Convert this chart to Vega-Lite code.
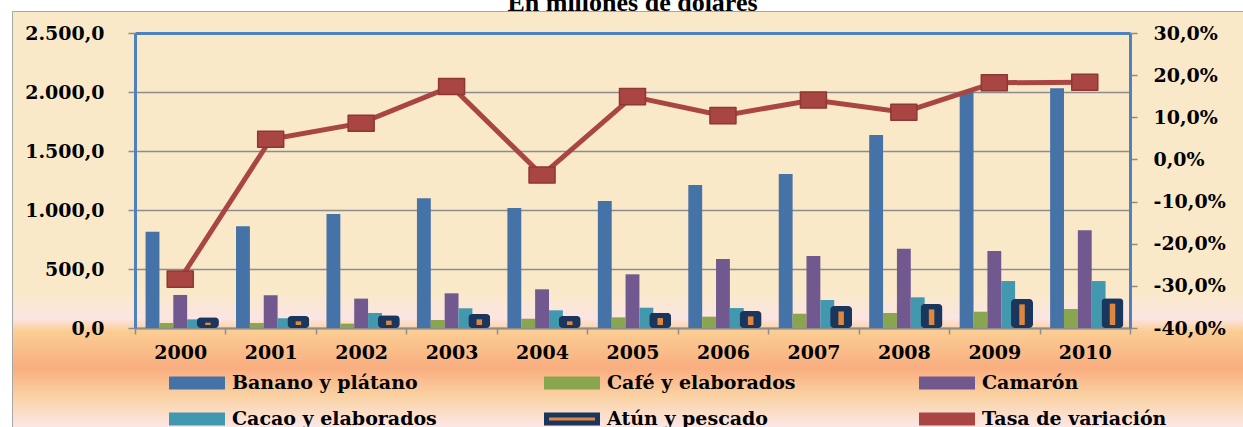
{
  "$schema": "https://vega.github.io/schema/vega-lite/v6.json",
  "autosize": {"type": "none"},
  "padding": {"left": 12, "top": 11, "right": 0, "bottom": 0},
  "background": "white",
  "width": 1241,
  "height": 430,
  "config": {
    "locale": {"number": {"decimal": ",", "thousands": ".", "grouping": [3], "currency": ["", ""], "minus": "-"}},
    "font": "DejaVu Serif",
    "axis": {"labelFont": "DejaVu Serif", "labelFontSize": 19, "labelFontWeight": "bold", "labelColor": "black", "tickColor": "#8C8C8C", "tickWidth": 1.5}
  },
  "title": {"text": "En millones de dólares", "font": "Liberation Serif", "fontSize": 26, "fontWeight": "bold", "color": "black", "frame": "group", "offset": -5, "anchor": "middle"},
  "view": {
    "fill": {
      "gradient": "linear", "x1": 0, "y1": 0, "x2": 0, "y2": 1,
      "stops": [
        {"offset": 0, "color": "#FAE9C8"},
        {"offset": 0.649, "color": "#FAE9C8"},
        {"offset": 0.714, "color": "#FBE5E3"},
        {"offset": 0.744, "color": "#FBCD93"},
        {"offset": 0.83, "color": "#F9AE80"},
        {"offset": 0.895, "color": "#FAD2A3"},
        {"offset": 0.963, "color": "#FCE6E3"},
        {"offset": 1, "color": "#FCE6E3"}
      ]
    },
    "stroke": "#A6A6A6",
    "strokeWidth": 1
  },
  "datasets": {
    "bars": [
      {"year": "2000", "series": "Banano y plátano", "value": 816},
      {"year": "2001", "series": "Banano y plátano", "value": 862},
      {"year": "2002", "series": "Banano y plátano", "value": 966},
      {"year": "2003", "series": "Banano y plátano", "value": 1099},
      {"year": "2004", "series": "Banano y plátano", "value": 1017},
      {"year": "2005", "series": "Banano y plátano", "value": 1076},
      {"year": "2006", "series": "Banano y plátano", "value": 1212},
      {"year": "2007", "series": "Banano y plátano", "value": 1305},
      {"year": "2008", "series": "Banano y plátano", "value": 1636},
      {"year": "2009", "series": "Banano y plátano", "value": 1995},
      {"year": "2010", "series": "Banano y plátano", "value": 2031},
      {"year": "2000", "series": "Café y elaborados", "value": 42},
      {"year": "2001", "series": "Café y elaborados", "value": 42},
      {"year": "2002", "series": "Café y elaborados", "value": 37},
      {"year": "2003", "series": "Café y elaborados", "value": 68},
      {"year": "2004", "series": "Café y elaborados", "value": 79},
      {"year": "2005", "series": "Café y elaborados", "value": 90},
      {"year": "2006", "series": "Café y elaborados", "value": 96},
      {"year": "2007", "series": "Café y elaborados", "value": 121},
      {"year": "2008", "series": "Café y elaborados", "value": 127},
      {"year": "2009", "series": "Café y elaborados", "value": 138},
      {"year": "2010", "series": "Café y elaborados", "value": 161},
      {"year": "2000", "series": "Camarón", "value": 280},
      {"year": "2001", "series": "Camarón", "value": 277},
      {"year": "2002", "series": "Camarón", "value": 249},
      {"year": "2003", "series": "Camarón", "value": 294},
      {"year": "2004", "series": "Camarón", "value": 328},
      {"year": "2005", "series": "Camarón", "value": 455},
      {"year": "2006", "series": "Camarón", "value": 585},
      {"year": "2007", "series": "Camarón", "value": 610},
      {"year": "2008", "series": "Camarón", "value": 672},
      {"year": "2009", "series": "Camarón", "value": 653},
      {"year": "2010", "series": "Camarón", "value": 828},
      {"year": "2000", "series": "Cacao y elaborados", "value": 73},
      {"year": "2001", "series": "Cacao y elaborados", "value": 82},
      {"year": "2002", "series": "Cacao y elaborados", "value": 127},
      {"year": "2003", "series": "Cacao y elaborados", "value": 167},
      {"year": "2004", "series": "Cacao y elaborados", "value": 150},
      {"year": "2005", "series": "Cacao y elaborados", "value": 172},
      {"year": "2006", "series": "Cacao y elaborados", "value": 169},
      {"year": "2007", "series": "Cacao y elaborados", "value": 237},
      {"year": "2008", "series": "Cacao y elaborados", "value": 260},
      {"year": "2009", "series": "Cacao y elaborados", "value": 398},
      {"year": "2010", "series": "Cacao y elaborados", "value": 398}
    ],
    "atun": [
      {"year": "2000", "series": "Atún y pescado", "value": 91},
      {"year": "2001", "series": "Atún y pescado", "value": 102},
      {"year": "2002", "series": "Atún y pescado", "value": 108},
      {"year": "2003", "series": "Atún y pescado", "value": 119},
      {"year": "2004", "series": "Atún y pescado", "value": 102},
      {"year": "2005", "series": "Atún y pescado", "value": 130},
      {"year": "2006", "series": "Atún y pescado", "value": 144},
      {"year": "2007", "series": "Atún y pescado", "value": 186},
      {"year": "2008", "series": "Atún y pescado", "value": 203},
      {"year": "2009", "series": "Atún y pescado", "value": 246},
      {"year": "2010", "series": "Atún y pescado", "value": 252}
    ],
    "tasa": [
      {"year": "2000", "series": "Tasa de variación", "rate": -0.284},
      {"year": "2001", "series": "Tasa de variación", "rate": 0.048},
      {"year": "2002", "series": "Tasa de variación", "rate": 0.086},
      {"year": "2003", "series": "Tasa de variación", "rate": 0.173},
      {"year": "2004", "series": "Tasa de variación", "rate": -0.037},
      {"year": "2005", "series": "Tasa de variación", "rate": 0.149},
      {"year": "2006", "series": "Tasa de variación", "rate": 0.104},
      {"year": "2007", "series": "Tasa de variación", "rate": 0.141},
      {"year": "2008", "series": "Tasa de variación", "rate": 0.112},
      {"year": "2009", "series": "Tasa de variación", "rate": 0.182},
      {"year": "2010", "series": "Tasa de variación", "rate": 0.183}
    ]
  },
  "encoding": {
    "x": {
      "field": "year", "type": "ordinal",
      "scale": {"range": [123, 1118], "paddingInner": 0, "paddingOuter": 0},
      "axis": {"title": null, "labelAngle": 0, "labelPadding": 9, "offset": -113, "tickBand": "extent", "tickSize": 6, "domainColor": "#8C8C8C", "domainWidth": 2, "grid": false}
    }
  },
  "layer": [
    {
      "layer": [
        {
          "data": {"name": "bars"},
          "mark": {"type": "bar"},
          "encoding": {
            "xOffset": {"field": "series", "type": "nominal", "scale": {"domain": ["Banano y plátano", "Café y elaborados", "Camarón", "Cacao y elaborados", "Atún y pescado"], "paddingInner": 0, "paddingOuter": 0.763}},
            "y": {
              "field": "value", "type": "quantitative",
              "scale": {"domain": [0, 2500], "nice": false, "range": [317, 22]},
              "axis": {
                "title": null, "orient": "left", "offset": -123, "values": [0, 500, 1000, 1500, 2000, 2500], "format": ",.1f", "labelPadding": 24, "tickSize": 7,
                "domain": true, "domainColor": "#4F81BD", "domainWidth": 3,
                "grid": true,
                "gridColor": {"condition": {"test": "datum.value >= 2500", "value": "#4F81BD"}, "value": "#8C8C8C"},
                "gridWidth": {"condition": {"test": "datum.value >= 2500", "value": 3}, "value": 1.5}
              }
            },
            "fill": {
              "field": "series", "type": "nominal", "title": null,
              "scale": {"domain": ["Banano y plátano", "Café y elaborados", "Camarón", "Cacao y elaborados", "Atún y pescado", "Tasa de variación"], "range": ["#4572A7", "#89A54E", "#71588F", "#4198AF", "#E0873E", "#A94643"]},
              "legend": {"orient": "none", "legendX": 174, "legendY": 361, "direction": "horizontal", "columns": 3, "gridAlign": "all", "columnPadding": 99, "rowPadding": 8, "symbolType": "M-3,-0.47H3V0.47H-3Z", "symbolSize": 289, "symbolStrokeWidth": 5, "labelFont": "DejaVu Serif", "labelFontSize": 19, "labelFontWeight": "bold", "labelColor": "black", "labelOffset": 24, "labelLimit": 400, "zindex": 1, "padding": 0}
            },
            "stroke": {
              "field": "series", "type": "nominal", "title": null,
              "scale": {"domain": ["Banano y plátano", "Café y elaborados", "Camarón", "Cacao y elaborados", "Atún y pescado", "Tasa de variación"], "range": ["#4572A7", "#89A54E", "#71588F", "#4198AF", "#1B365D", "#A94643"]}
            },
            "strokeWidth": {"value": 0}
          }
        },
        {
          "data": {"name": "atun"},
          "mark": {"type": "bar", "width": 22, "fill": "#1B365D", "cornerRadius": 4},
          "encoding": {
            "xOffset": {"field": "series", "type": "nominal"},
            "y": {"field": "value", "type": "quantitative"}
          }
        },
        {
          "data": {"name": "atun"},
          "mark": {"type": "bar", "width": 5.5, "fill": "#E0873E", "yOffset": 5.4, "y2Offset": -3},
          "encoding": {
            "xOffset": {"field": "series", "type": "nominal"},
            "y": {"field": "value", "type": "quantitative"},
            "y2": {"datum": 0}
          }
        }
      ]
    },
    {
      "data": {"name": "tasa"},
      "encoding": {
        "y": {
          "field": "rate", "type": "quantitative",
          "scale": {"domain": [-0.4, 0.3], "nice": false, "zero": false, "range": [317, 22]},
          "axis": {"title": null, "orient": "right", "offset": -123, "values": [-0.4, -0.3, -0.2, -0.1, 0, 0.1, 0.2, 0.3], "format": ".1%", "labelPadding": 16, "tickSize": 7, "domain": true, "domainColor": "#4F81BD", "domainWidth": 3, "grid": false}
        }
      },
      "layer": [
        {
          "mark": {"type": "line", "strokeWidth": 5},
          "encoding": {
            "stroke": {"field": "series", "type": "nominal", "title": null}
          }
        },
        {
          "mark": {"type": "point", "filled": true, "shape": "M-1,-0.62H1V0.62H-1Z", "size": 676, "opacity": 1, "stroke": "#8E3734", "strokeWidth": 1.5, "strokeJoin": "round"},
          "encoding": {
            "fill": {"field": "series", "type": "nominal", "title": null}
          }
        }
      ]
    }
  ],
  "resolve": {"scale": {"y": "independent"}}
}
